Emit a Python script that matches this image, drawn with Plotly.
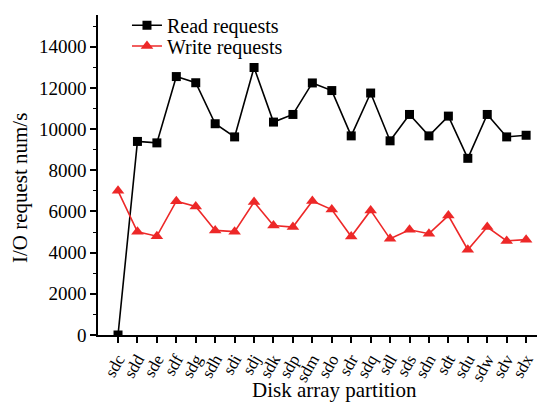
import plotly.graph_objects as go

categories = ["sdc", "sdd", "sde", "sdf", "sdg", "sdh", "sdi", "sdj", "sdk", "sdp", "sdm",
              "sdo", "sdr", "sdq", "sdl", "sds", "sdn", "sdt", "sdu", "sdw", "sdv", "sdx"]
read_requests = [0, 9400, 9330, 12550, 12250, 10260, 9620, 12990, 10340, 10710, 12240,
                 11870, 9670, 11750, 9430, 10710, 9670, 10630, 8580, 10710, 9620, 9700]
write_requests = [7000, 5010, 4800, 6500, 6240, 5080, 5020, 6460, 5320, 5240, 6510,
                  6090, 4780, 6050, 4670, 5110, 4920, 5800, 4140, 5240, 4570, 4630]

FONT = "Liberation Serif"
RED = "rgb(237,40,40)"

fig = go.Figure()
fig.add_trace(go.Scatter(x=categories, y=read_requests, name="Read requests",
                         mode="lines+markers", legend="legend",
                         line=dict(color="black", width=1.6),
                         marker=dict(symbol="square", size=9, color="black")))
fig.add_trace(go.Scatter(x=categories, y=write_requests, name="Write requests",
                         mode="lines+markers", legend="legend2",
                         line=dict(color=RED, width=1.6),
                         marker=dict(symbol="triangle-up", size=11, color=RED)))

leg_common = dict(xanchor="left", yanchor="middle", bgcolor="rgba(0,0,0,0)",
                  font=dict(size=20), itemwidth=30)
fig.update_layout(
    width=543, height=403,
    margin=dict(l=98, r=6, t=12, b=68),
    paper_bgcolor="white", plot_bgcolor="white",
    font=dict(family=FONT, size=19, color="black"),
    showlegend=True,
    legend=dict(x=0.066, y=0.968, **leg_common),
    legend2=dict(x=0.066, y=0.903, **leg_common),
    annotations=[
        dict(text="Disk array partition", xref="paper", yref="paper",
             x=0.5376, y=-0.173, xanchor="center", yanchor="middle",
             showarrow=False, font=dict(size=21)),
        dict(text="I/O request num/s", xref="paper", yref="paper",
             x=-0.177, y=0.46, xanchor="center", yanchor="middle", textangle=-90,
             showarrow=False, font=dict(size=21)),
    ],
)
fig.update_xaxes(
    type="category", range=[-1.03, 21.56], automargin=False,
    tickmode="array", tickvals=categories, ticktext=categories,
    showline=True, linecolor="black", linewidth=1.5,
    ticks="outside", ticklen=6, tickwidth=1.5, tickcolor="black",
    tickangle=-60, showgrid=False, zeroline=False,
    tickfont=dict(size=17),
)
fig.update_yaxes(
    range=[0, 15540], automargin=False,
    showline=True, linecolor="black", linewidth=1.5,
    ticks="outside", ticklen=6, tickwidth=1.5, tickcolor="black",
    tickmode="linear", tick0=0, dtick=2000, tickformat="d",
    minor=dict(ticks="outside", ticklen=3, tickwidth=1.2, dtick=1000, tickcolor="black"),
    showgrid=False, zeroline=False,
    tickfont=dict(size=19),
)

fig.write_html("out.html")
